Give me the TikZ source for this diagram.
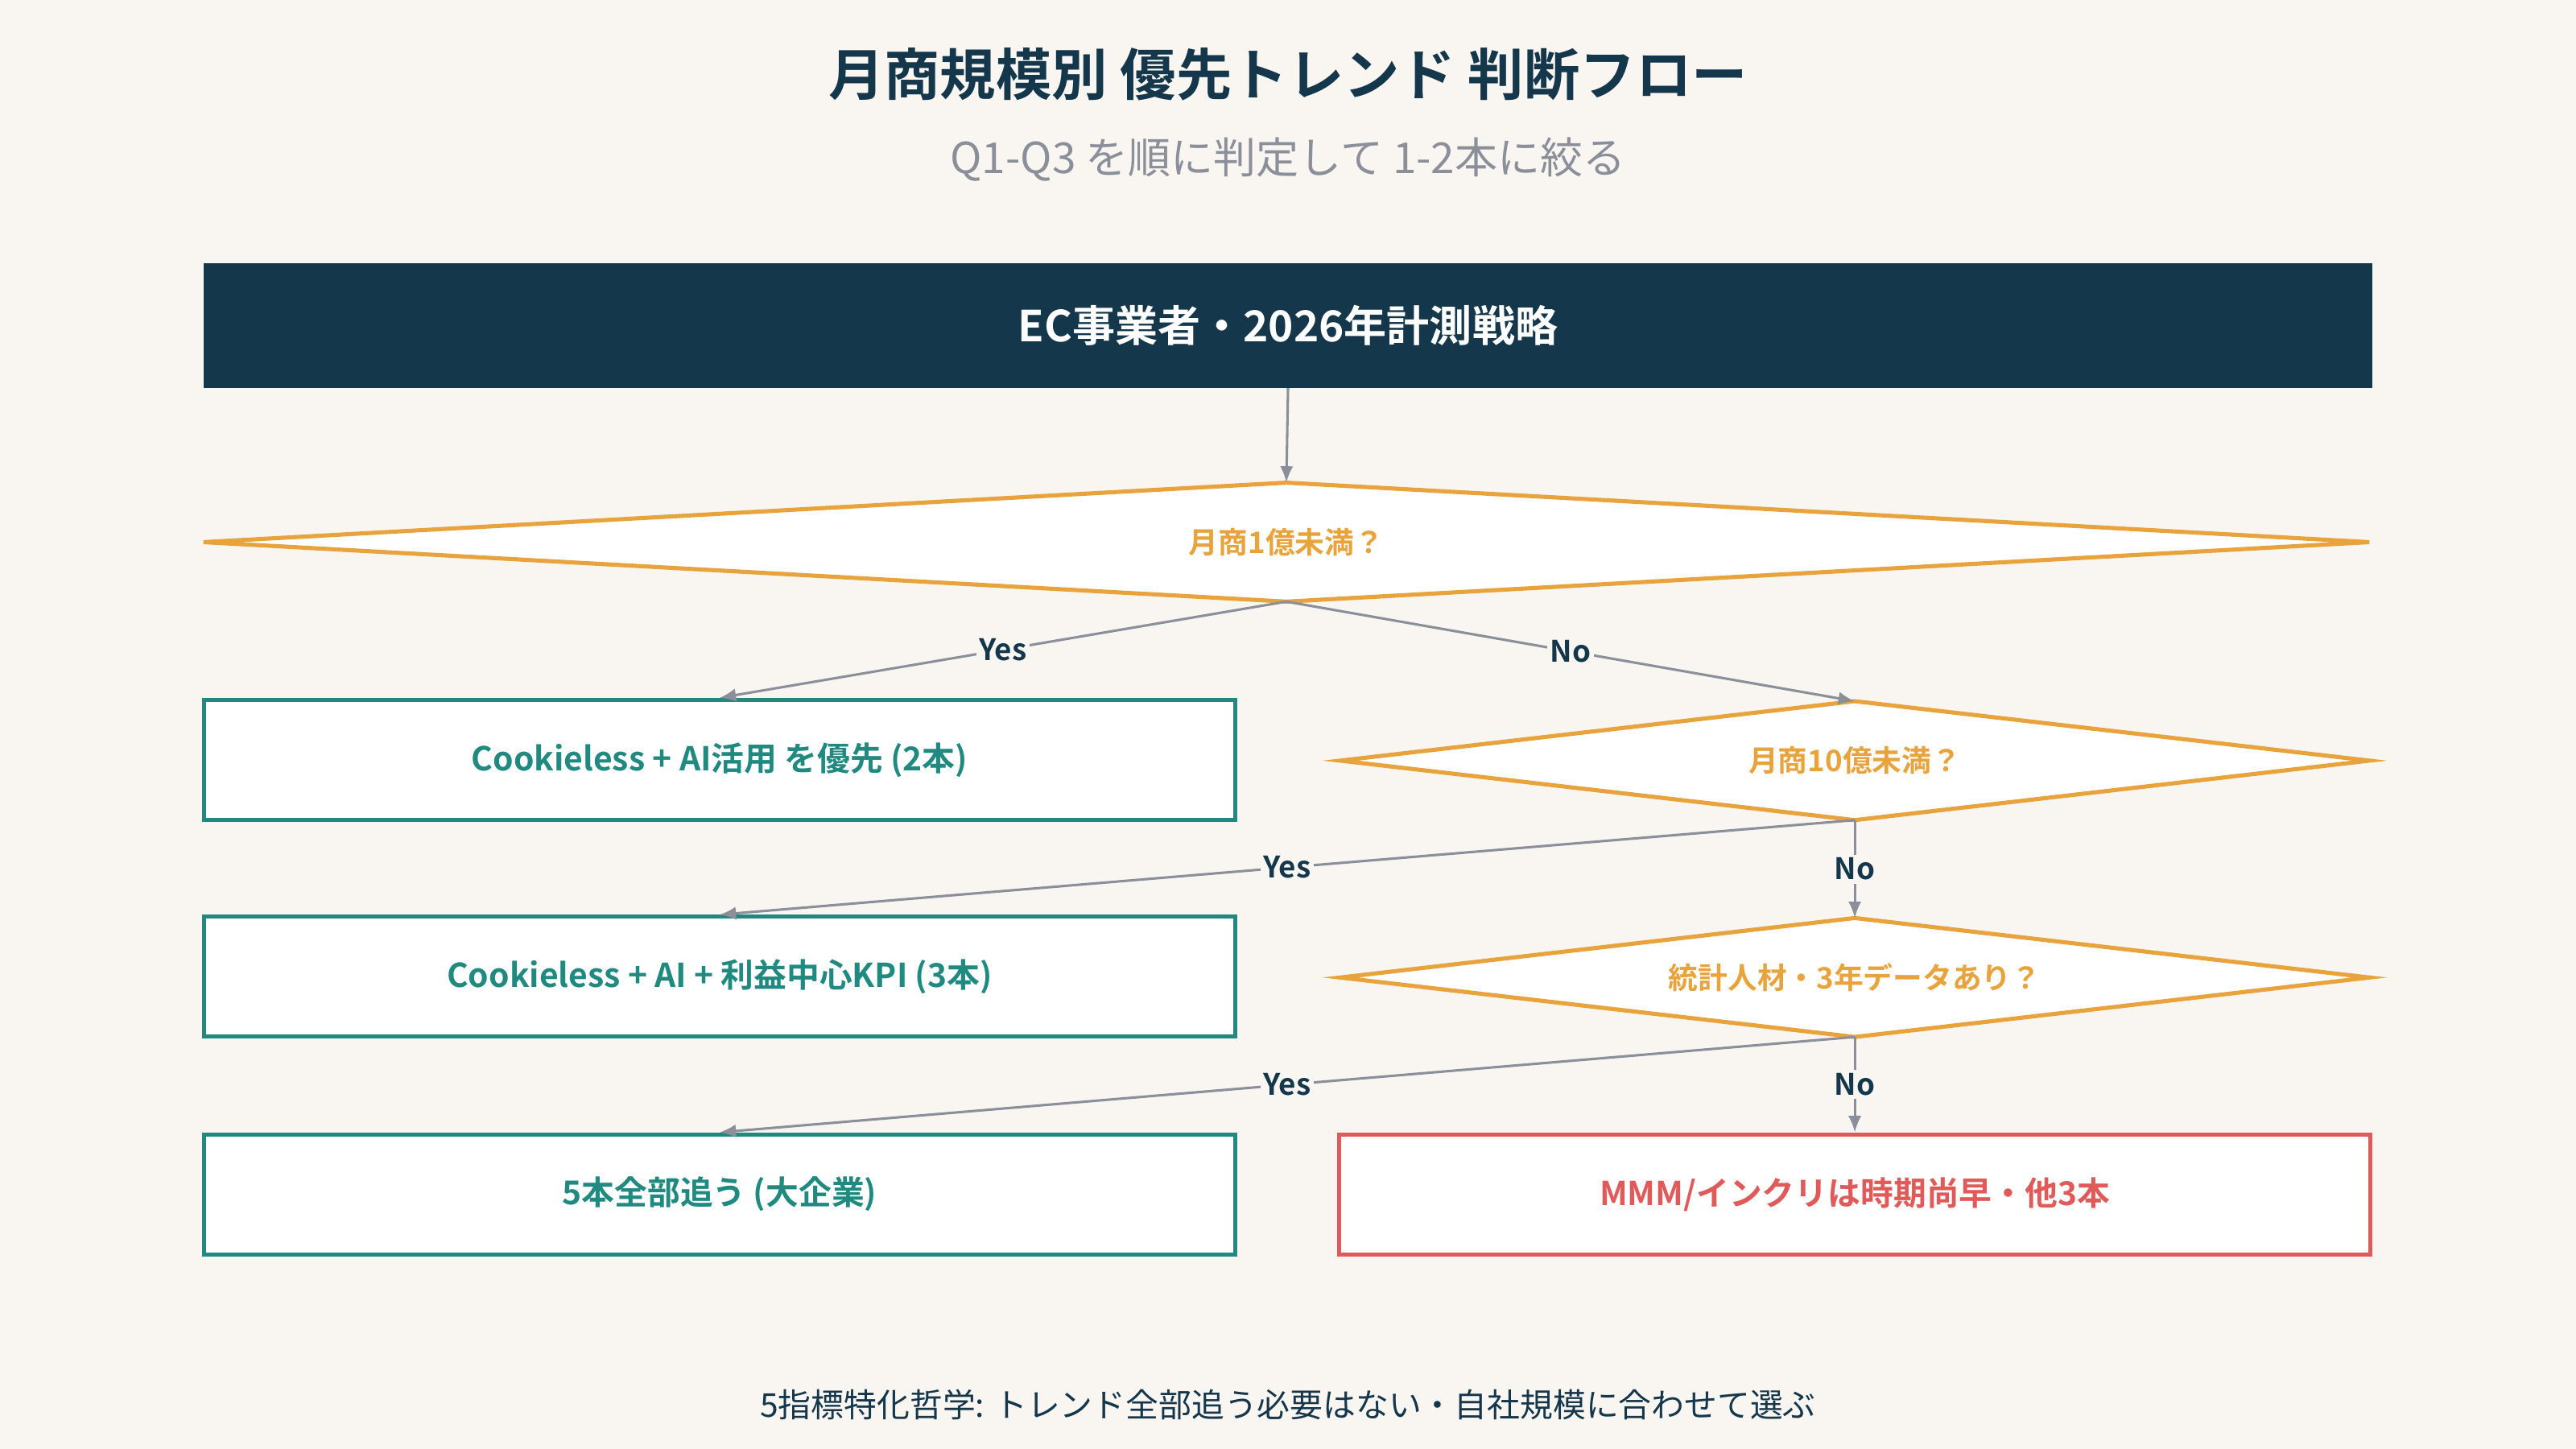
\documentclass[tikz,border=0pt]{standalone}
\usepackage{fontspec}
\setmainfont{Noto Sans CJK JP}[BoldFont={Noto Sans CJK JP Bold}]
\usetikzlibrary{arrows.meta}
\definecolor{bg}{HTML}{F9F6F1}
\definecolor{navy}{HTML}{14374C}
\definecolor{gr}{HTML}{8A8F99}
\definecolor{org}{HTML}{E8A33D}
\definecolor{teal}{HTML}{218A80}
\definecolor{red}{HTML}{E05A5A}
\begin{document}
\begin{tikzpicture}[x=1pt,y=-1pt,
  box/.style={draw=teal,line width=2.5pt,fill=white,minimum width=628pt,minimum height=73pt,text=teal,font=\fontsize{20}{24}\selectfont\bfseries},
  dia/.style={draw=none,minimum height=72pt,text=org,font=\fontsize{18}{22}\selectfont\bfseries},
  dshape/.style={draw=org,line width=2.5pt,fill=white},
  conn/.style={draw=gr,line width=1.5pt,-{Latex[length=10pt,width=8pt]}},
  lab/.style={fill=bg,text=navy,inner sep=2pt,font=\fontsize{18}{22}\selectfont\bfseries}]
\fill[bg] (0,0) rectangle (1568,882);
\useasboundingbox (0,0) rectangle (1568,882);
\node[text=navy,font=\fontsize{34}{40}\selectfont\bfseries] (title) at (784,45) {月商規模別 優先トレンド 判断フロー};
\node[text=gr,font=\fontsize{26}{30}\selectfont] (sub) at (784,97) {Q1-Q3 を順に判定して 1-2本に絞る};
\node[fill=navy,minimum width=1320pt,minimum height=76pt,text=white,font=\fontsize{26}{30}\selectfont\bfseries] (top) at (784,198) {EC事業者・2026年計測戦略};
\node[dia,minimum width=1318pt] (d1) at (783,330) {};
\draw[dshape] (d1.north)--(d1.east)--(d1.south)--(d1.west)--cycle;
\node[dia] at (d1) {月商1億未満？};
\node[dia,minimum width=626pt] (d2) at (1129,463) {};
\draw[dshape] (d2.north)--(d2.east)--(d2.south)--(d2.west)--cycle;
\node[dia] at (d2) {月商10億未満？};
\node[dia,minimum width=626pt] (d3) at (1129,595) {};
\draw[dshape] (d3.north)--(d3.east)--(d3.south)--(d3.west)--cycle;
\node[dia] at (d3) {統計人材・3年データあり？};
\node[box] (b1) at (438,462.5) {Cookieless + AI活用 を優先 (2本)};
\node[box] (b2) at (438,594.5) {Cookieless + AI + 利益中心KPI (3本)};
\node[box] (b3) at (438,727) {5本全部追う (大企業)};
\node[box,draw=red,text=red] (b4) at (1129,727) {MMM/インクリは時期尚早・他3本};
\draw[conn] (top.south) -- (d1.north);
\draw[conn] (d1.south) -- node[lab]{Yes} (b1.north);
\draw[conn] (d1.south) -- node[lab]{No} (d2.north);
\draw[conn] (d2.south) -- node[lab]{Yes} (b2.north);
\draw[conn] (d2.south) -- node[lab]{No} (d3.north);
\draw[conn] (d3.south) -- node[lab]{Yes} (b3.north);
\draw[conn] (d3.south) -- node[lab]{No} (b4.north);
\node[text=navy,font=\fontsize{20}{24}\selectfont] (foot) at (784,855) {5指標特化哲学: トレンド全部追う必要はない・自社規模に合わせて選ぶ};
\end{tikzpicture}
\end{document}
